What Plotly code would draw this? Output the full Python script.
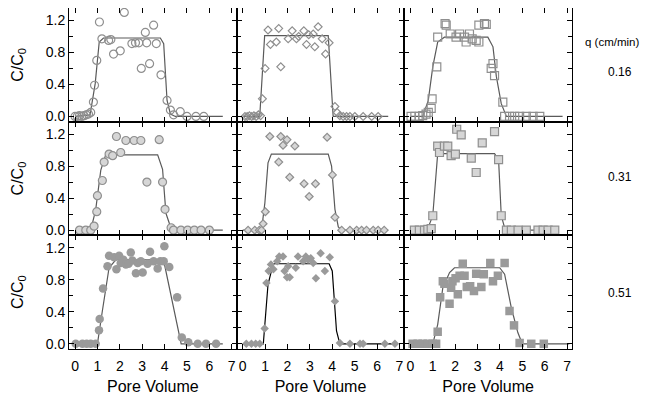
import plotly.graph_objects as go
from plotly.subplots import make_subplots

# ---------------- data ----------------
# Row 1, q = 0.16 cm/min
x11 = [0.0, 0.1, 0.2, 0.3, 0.4, 0.5, 0.6, 0.7, 0.82, 0.87, 0.97, 1.09, 1.2, 1.5, 1.6, 1.72, 2.02, 2.2, 2.54, 2.7,
       2.85, 2.96, 3.14, 3.2, 3.33, 3.51, 3.63, 3.84, 4.11, 4.26, 4.4, 4.7, 5.0, 5.4, 5.75]
y11 = [0.0, 0.0, 0.01, 0.0, 0.01, 0.02, 0.03, 0.05, 0.18, 0.39, 0.70, 1.18, 0.97, 0.95, 0.96, 0.78, 0.82, 1.30, 0.91, 0.92,
       0.92, 0.60, 1.05, 0.92, 0.66, 1.14, 0.91, 0.52, 0.20, 0.08, 0.02, 0.06, 0.0, 0.0, 0.0]
fx11 = [0.0, 0.67, 0.9, 1.08, 1.27, 3.81, 3.96, 4.11, 4.26, 4.48, 6.6]
fy11 = [0.0, 0.02, 0.41, 0.93, 0.98, 0.98, 0.91, 0.20, 0.03, 0.0, 0.0]

x12 = [0.1, 0.2, 0.3, 0.4, 0.5, 0.6, 0.7, 0.8, 0.88, 1.0, 1.13, 1.24, 1.5, 1.61, 1.70, 2.03, 2.21, 2.40, 2.5, 2.73,
       2.85, 2.95, 3.15, 3.22, 3.37, 3.55, 3.70, 3.86, 4.12, 4.22, 4.34, 4.49, 4.64, 4.79, 5.01, 5.38, 5.76, 6.05]
y12 = [0.0, 0.0, 0.01, 0.0, 0.01, 0.0, 0.02, 0.01, 0.22, 0.60, 1.08, 0.90, 0.93, 1.10, 0.62, 0.97, 1.07, 0.97, 1.0, 1.07,
       0.90, 1.02, 1.03, 0.87, 1.12, 0.97, 0.78, 0.92, 0.125, 0.05, 0.01, 0.0, 0.0, 0.0, 0.0, 0.0, 0.0, 0.0]
fx12 = [0.0, 0.76, 0.98, 3.82, 4.04, 6.5]
fy12 = [0.0, 0.0, 1.01, 1.01, 0.0, 0.0]

x13 = [0.03, 0.2, 0.4, 0.55, 0.7, 0.8, 0.93, 0.97, 1.18, 1.22, 1.55, 1.6, 1.78, 2.04, 2.2, 2.42, 2.49, 2.64, 2.76, 2.94,
       3.06, 3.06, 3.31, 3.39, 3.61, 3.69, 3.76, 4.13, 4.21, 4.43, 4.66, 4.88, 5.18, 5.48, 5.78]
y13 = [0.0, 0.0, 0.0, 0.01, 0.03, 0.05, 0.10, 0.22, 0.62, 0.99, 1.16, 1.14, 1.03, 0.99, 1.03, 0.99, 0.93, 1.03, 0.97, 0.95,
       0.93, 1.14, 1.16, 1.15, 0.60, 0.66, 0.51, 0.18, 0.0, 0.0, 0.0, 0.0, 0.0, 0.0, 0.0]
fx13 = [0.0, 0.55, 0.8, 1.0, 1.22, 1.52, 3.46, 3.69, 3.84, 4.06, 4.29, 6.8]
fy13 = [0.0, 0.0, 0.2, 0.62, 0.93, 0.99, 0.99, 0.87, 0.50, 0.16, 0.0, 0.0]

# Row 2, q = 0.31 cm/min
x21 = [0.2, 0.48, 0.7, 0.85, 0.97, 1.0, 1.22, 1.30, 1.52, 1.68, 1.85, 2.04, 2.27, 2.64, 2.94, 3.21, 3.76, 3.91, 4.02, 4.29,
       4.4, 4.73, 5.03, 5.33, 5.63, 6.0]
y21 = [0.0, 0.0, 0.0, 0.05, 0.23, 0.43, 0.62, 0.85, 0.95, 0.93, 1.17, 0.97, 1.12, 1.12, 1.12, 0.60, 1.13, 0.60, 0.26, 0.03,
       0.0, 0.0, 0.0, 0.0, 0.0, 0.0]
fx21 = [0.0, 0.7, 0.92, 1.15, 1.37, 3.69, 3.91, 4.06, 4.29, 4.45, 6.6]
fy21 = [0.0, 0.0, 0.25, 0.75, 0.94, 0.94, 0.76, 0.21, 0.02, 0.0, 0.0]

x22 = [0.24, 0.54, 0.74, 0.84, 0.91, 1.01, 1.21, 1.61, 1.70, 1.80, 1.98, 2.10, 2.33, 2.74, 2.97, 3.25, 3.77, 4.01, 4.12,
       4.42, 4.79, 5.09, 5.31, 5.53, 5.83, 6.05, 6.32]
y22 = [0.0, 0.0, 0.0, 0.0, 0.08, 0.23, 1.17, 0.85, 1.17, 1.06, 1.13, 0.66, 1.05, 0.58, 0.42, 0.58, 1.16, 0.69, 0.16,
       0.0, 0.0, 0.0, 0.0, 0.0, 0.0, 0.0, 0.0]
fx22 = [0.0, 0.84, 0.99, 1.13, 1.28, 3.82, 3.97, 4.12, 4.27, 4.42, 6.5]
fy22 = [0.0, 0.0, 0.34, 0.84, 0.95, 0.95, 0.80, 0.26, 0.04, 0.0, 0.0]

x23 = [0.18, 0.4, 0.63, 0.78, 0.93, 1.0, 1.22, 1.30, 1.52, 1.67, 1.82, 2.01, 2.07, 2.27, 2.72, 2.94, 3.21, 3.76, 3.94, 4.06,
       4.29, 4.51, 4.81, 5.18, 5.70, 5.93, 6.15, 6.45]
y23 = [0.0, 0.0, 0.0, 0.01, 0.02, 0.18, 1.05, 0.97, 1.05, 1.05, 0.93, 0.95, 1.26, 1.19, 0.90, 0.72, 1.09, 1.23, 0.88, 0.18,
       0.0, 0.0, 0.0, 0.0, 0.0, 0.0, 0.0, 0.0]
fx23 = [0.0, 0.75, 1.0, 1.22, 3.76, 3.94, 4.06, 4.24, 6.6]
fy23 = [0.0, 0.0, 0.18, 0.955, 0.955, 0.88, 0.18, 0.0, 0.0]

# Row 3, q = 0.51 cm/min
x31 = [0.03, 0.33, 0.52, 0.70, 0.92, 1.07, 1.10, 1.25, 1.45, 1.52, 1.75, 1.85, 1.97, 2.04, 2.16, 2.27, 2.39, 2.49, 2.56,
       2.72, 2.8, 2.94, 3.02, 3.24, 3.35, 3.51, 3.69, 3.81, 3.96, 3.99, 4.21, 4.56, 4.77, 5.06, 5.48, 5.85, 6.3]
y31 = [0.0, 0.0, 0.0, 0.0, 0.0, 0.17, 0.31, 0.69, 0.97, 1.10, 1.08, 0.93, 1.10, 1.01, 1.05, 0.99, 1.00, 1.14, 1.04,
       0.88, 1.01, 1.03, 0.89, 1.0, 1.15, 1.03, 0.94, 1.03, 1.03, 1.22, 0.96, 0.58, 0.08, 0.02, 0.0, 0.0, 0.0]
fx31 = [0.0, 1.0, 1.22, 1.52, 1.82, 3.69, 3.99, 4.36, 4.74, 6.6]
fy31 = [0.0, 0.0, 0.41, 0.95, 1.05, 1.05, 1.0, 0.51, 0.0, 0.0]

x32 = [0.16, 0.39, 0.58, 0.76, 0.98, 1.06, 1.16, 1.26, 1.37, 1.54, 1.63, 1.80, 1.87, 1.98, 2.03, 2.1, 2.37, 2.47, 2.7,
       2.82, 2.92, 3.04, 3.15, 3.27, 3.48, 3.67, 3.89, 4.12, 4.34, 4.79, 5.24, 5.38, 6.35, 6.8]
y32 = [0.0, 0.0, 0.0, 0.0, 0.19, 0.76, 0.91, 0.99, 0.93, 1.03, 1.09, 1.09, 0.91, 0.83, 0.97, 0.83, 0.95, 1.09, 1.03,
       1.09, 1.05, 1.07, 1.01, 0.82, 1.13, 0.91, 1.08, 0.53, 0.01, 0.0, 0.0, 0.0, 0.0, 0.0]
fx32 = [0.0, 0.92, 1.13, 1.36, 3.86, 4.0, 4.19, 4.34, 6.9]
fy32 = [0.0, 0.0, 0.74, 1.0, 1.0, 0.91, 0.16, 0.0, 0.0]

x33 = [0.10, 0.33, 0.55, 0.78, 1.0, 1.15, 1.22, 1.33, 1.45, 1.52, 1.75, 1.82, 1.88, 2.02, 2.12, 2.2, 2.34, 2.42, 2.52,
       2.67, 2.84, 2.94, 3.17, 3.28, 3.57, 3.69, 3.91, 4.21, 4.43, 4.63, 4.88, 5.4, 5.96]
y33 = [0.0, 0.0, 0.0, 0.0, 0.0, 0.0, 0.15, 0.58, 0.78, 0.75, 0.50, 0.70, 0.78, 0.82, 0.62, 0.85, 1.0, 0.85, 0.71,
       0.72, 0.66, 0.875, 0.71, 0.87, 1.01, 0.78, 0.85, 1.01, 0.41, 0.23, 0.01, 0.0, 0.0]
fx33 = [0.0, 1.0, 1.22, 1.45, 1.75, 1.97, 3.99, 4.21, 4.51, 4.8, 5.0, 7.1]
fy33 = [0.0, 0.0, 0.24, 0.70, 0.89, 0.95, 0.95, 0.87, 0.45, 0.14, 0.0, 0.0]

flow_rates = ["0.16", "0.31", "0.51"]
x_ticks = [0, 1, 2, 3, 4, 5, 6, 7]
y_ticks = [0.0, 0.4, 0.8, 1.2]

# ---------------- figure ----------------
# The page body has an 8 px margin, so the figure is 8 px smaller than the window.
OFF = 8
W, H = 651 - OFF, 399 - OFF
ML, MR, MT, MB = 69 - OFF, 79, 0, 50
FONT = "Liberation Sans, Arial, sans-serif"

fig = make_subplots(rows=3, cols=3, horizontal_spacing=0, vertical_spacing=0)

panels = [
    [(x11, y11, fx11, fy11), (x12, y12, fx12, fy12), (x13, y13, fx13, fy13)],
    [(x21, y21, fx21, fy21), (x22, y22, fx22, fy22), (x23, y23, fx23, fy23)],
    [(x31, y31, fx31, fy31), (x32, y32, fx32, fy32), (x33, y33, fx33, fy33)],
]
symbols = ["circle", "diamond", "square"]
sizes = {"circle": 8, "diamond": 6, "square": 8}
GRAY = "#8f8f8f"

for r in range(3):
    for c in range(3):
        xs, ys, fxs, fys = panels[r][c]
        sym = symbols[c]
        if r == 0:
            marker = dict(symbol=sym + "-open", color=GRAY, size=sizes[sym], line=dict(width=1.2))
        elif r == 1:
            marker = dict(symbol=sym, color="#d6d6d6", size=sizes[sym], line=dict(color=GRAY, width=1.2))
        else:
            marker = dict(symbol=sym, color="#9a9a9a", size=sizes[sym] + 0.5, line=dict(width=0))
        line_color = "#000000" if (r == 2 and c == 1) else "#5a5a5a"
        fig.add_trace(go.Scatter(x=fxs, y=fys, mode="lines", line=dict(color=line_color, width=1.2),
                                 hoverinfo="skip", showlegend=False), row=r + 1, col=c + 1)
        fig.add_trace(go.Scatter(x=xs, y=ys, mode="markers", marker=marker, showlegend=False),
                      row=r + 1, col=c + 1)

for r in range(1, 4):
    for c in range(1, 4):
        fig.update_xaxes(range=[-0.27, 7.22], tickvals=x_ticks, ticktext=[str(v) for v in x_ticks],
                         ticks="inside", ticklen=5, tickwidth=1, tickcolor="black",
                         showline=True, linecolor="black", linewidth=1, mirror="ticks",
                         showgrid=False, zeroline=False, showticklabels=(r == 3), automargin=False,
                         tickfont=dict(family=FONT, size=14, color="black"),
                         row=r, col=c)
        fig.update_yaxes(range=[-0.065, 1.355], tickvals=y_ticks, ticktext=["0.0", "0.4", "0.8", "1.2"],
                         ticks="inside", ticklen=5, tickwidth=1, tickcolor="black",
                         minor=dict(tickvals=[0.2, 0.6, 1.0], ticks="inside", ticklen=4, tickcolor="black"),
                         showline=True, linecolor="black", linewidth=1, mirror="ticks",
                         showgrid=False, zeroline=False, showticklabels=(c == 1), automargin=False,
                         tickfont=dict(family=FONT, size=14, color="black"),
                         row=r, col=c)
    fig.update_yaxes(title=dict(text="C/C<sub>0</sub>", font=dict(family=FONT, size=16, color="black"),
                                standoff=18), row=r, col=1)
for c in range(1, 4):
    fig.update_xaxes(ticklabelstandoff=4,
                     title=dict(text="Pore Volume", font=dict(family=FONT, size=16, color="black"),
                                standoff=8), row=3, col=c)

pw = W - ML - MR
ph = H - MT - MB
def px_x(px):
    # page pixel -> paper fraction
    return (px - OFF - ML) / pw
def px_y(py):
    return (H - MB - (py - OFF)) / ph

ann = [dict(text="q (cm/min)", x=px_x(612), y=px_y(42), size=11.5)]
for txt, py in zip(flow_rates, [72, 177, 293]):
    ann.append(dict(text=txt, x=px_x(620), y=px_y(py), size=12))
for a in ann:
    fig.add_annotation(text=a["text"], x=a["x"], y=a["y"], xref="paper", yref="paper",
                       showarrow=False, xanchor="center", yanchor="middle",
                       font=dict(family=FONT, size=a["size"], color="black"))

fig.update_layout(width=W, height=H, margin=dict(l=ML, r=MR, t=MT, b=MB, autoexpand=False),
                  paper_bgcolor="white", plot_bgcolor="white")

fig.write_html("out.html")
